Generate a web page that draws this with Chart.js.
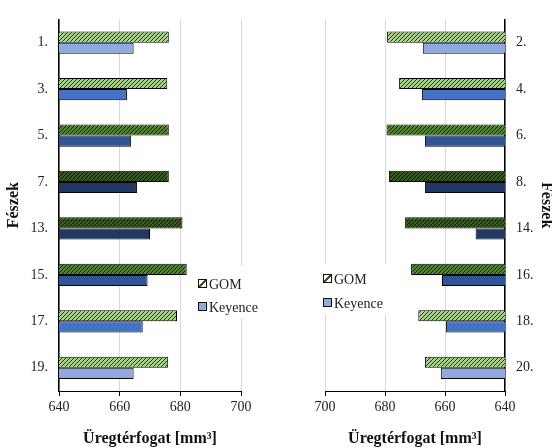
<!DOCTYPE html>
<html>
<head>
<meta charset="utf-8">
<script src="https://cdn.jsdelivr.net/npm/chart.js@4.4.0/dist/chart.umd.min.js"></script>
<style>
  html, body { margin: 0; padding: 0; background: #fff; }
  body { width: 552px; height: 448px; overflow: hidden; position: relative; font-family: "Liberation Serif", "Times New Roman", serif; }
  canvas { position: absolute; top: 0; }
  #leftChart { left: 0; }
  #rightChart { left: 276px; }
  .legend { position: absolute; background: #fff; font-size: 14px; color: #222; }
  .legend .row { position: absolute; left: 8px; white-space: nowrap; line-height: 16px; }
  .legend .box { display: inline-block; width: 7px; height: 7px; border: 1.5px solid #111; margin-right: 2px; vertical-align: 1px; }
  .legend .gom { background: linear-gradient(to bottom right, #fff 38%, #385723 38%, #385723 62%, #fff 62%); }
  .legend .key { background: #8faadc; }
</style>
</head>
<body>
<canvas id="leftChart" width="276" height="448"></canvas>
<canvas id="rightChart" width="284" height="448"></canvas>

<div class="legend" style="left:190px; top:266px; width:62px; height:52px;">
  <div class="row" style="top:11px;"><span class="box gom"></span>GOM</div>
  <div class="row" style="top:34px;"><span class="box key"></span>Keyence</div>
</div>
<div class="legend" style="left:318px; top:264px; width:72px; height:50px;">
  <div class="row" style="top:8px; left:5px;"><span class="box gom"></span>GOM</div>
  <div class="row" style="top:32px; left:5px;"><span class="box key"></span>Keyence</div>
</div>

<script>
// values
const leftLabels = ['1.', '3.', '5.', '7.', '13.', '15.', '17.', '19.'];
const leftGom = [676.2, 675.7, 676.2, 676.2, 680.7, 682.1, 678.9, 676.0];
const leftKeyence = [664.6, 662.4, 663.8, 665.7, 670.0, 669.2, 667.6, 664.6];

const rightLabels = ['2.', '4.', '6.', '8.', '14.', '16.', '18.', '20.'];
const rightGom = [679.3, 675.3, 679.5, 678.7, 673.3, 671.3, 668.9, 666.7];
const rightKeyence = [667.4, 667.7, 666.7, 666.7, 649.8, 661.0, 659.7, 661.4];

const xTicks = [640, 660, 680, 700];

const greens = ['#a9d18e', '#a9d18e', '#548235', '#385723', '#385723', '#548235', '#a9d18e', '#a9d18e'];
const blues = ['#8faadc', '#4472c4', '#2f5597', '#203864', '#203864', '#2f5597', '#4472c4', '#8faadc'];

const serif = '"Liberation Serif", "Times New Roman", serif';

function hatch(ctx, color) {
    const c = document.createElement('canvas');
    c.width = 4;
    c.height = 4;
    const g = c.getContext('2d');
    g.fillStyle = color;
    g.fillRect(0, 0, 4, 4);
    g.strokeStyle = 'rgba(0,0,0,0.75)';
    g.lineWidth = 1;
    g.beginPath();
    g.moveTo(-1, 5); g.lineTo(5, -1);
    g.moveTo(-1, 1); g.lineTo(1, -1);
    g.moveTo(3, 5); g.lineTo(5, 3);
    g.stroke();
    return ctx.createPattern(c, 'repeat');
}

function makeChart(id, labels, gom, keyence, onRight) {
    const ctx = document.getElementById(id).getContext('2d');
    return new Chart(ctx, {
        type: 'bar',
        data: {
            labels: labels,
            datasets: [
                {
                    label: 'GOM',
                    data: gom,
                    backgroundColor: greens.map(c => hatch(ctx, c)),
                    borderColor: '#000',
                    borderWidth: 1
                },
                {
                    label: 'Keyence',
                    data: keyence,
                    backgroundColor: blues,
                    borderColor: '#000',
                    borderWidth: 1
                }
            ]
        },
        options: {
            indexAxis: 'y',
            responsive: false,
            animation: false,
            categoryPercentage: 0.48,
            barPercentage: 1,
            layout: {
                padding: { top: 15, bottom: 0, left: onRight ? 49 : 0, right: onRight ? 0 : 35 }
            },
            plugins: {
                legend: { display: false },
                tooltip: { enabled: false }
            },
            scales: {
                x: {
                    min: 640,
                    max: 700,
                    reverse: onRight,
                    afterBuildTicks: s => { s.ticks = xTicks.map(v => ({ value: v })); },
                    afterFit: s => { s.height = 57; },
                    ticks: { color: '#222', font: { family: serif, size: 14 }, padding: 3 },
                    grid: { color: '#d9d9d9', tickColor: '#000', tickLength: 5 },
                    border: { color: '#000', width: 1 },
                    title: {
                        display: true,
                        text: 'Üregtérfogat [mm³]',
                        color: '#111',
                        font: { family: serif, size: 16, weight: 'bold' },
                        padding: { top: 8, bottom: 0 }
                    }
                },
                y: {
                    position: onRight ? 'right' : 'left',
                    afterFit: s => { s.width = onRight ? 55 : 59; },
                    grid: { display: false, drawTicks: false },
                    border: { color: '#000', width: 1.5 },
                    ticks: { color: '#222', font: { family: serif, size: 14 }, padding: 11 },
                    title: {
                        display: true,
                        text: 'Fészek',
                        color: '#111',
                        font: { family: serif, size: 16, weight: 'bold' },
                        padding: { top: 4, bottom: 4 }
                    }
                }
            }
        }
    });
}

makeChart('leftChart', leftLabels, leftGom, leftKeyence, false);
makeChart('rightChart', rightLabels, rightGom, rightKeyence, true);
</script>
</body>
</html>
